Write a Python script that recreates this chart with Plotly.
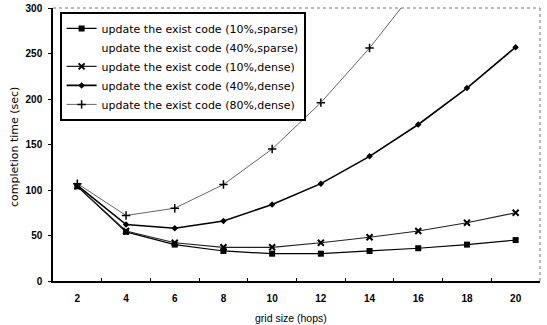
import plotly.graph_objects as go

grid_size = [2, 4, 6, 8, 10, 12, 14, 16, 18, 20]
names = [
    "update the exist code (10%,sparse)",
    "update the exist code (40%,sparse)",
    "update the exist code (10%,dense)",
    "update the exist code (40%,dense)",
    "update the exist code (80%,dense)",
]
s10_sparse = [104, 54, 40, 33, 30, 30, 33, 36, 40, 45]
s40_sparse = [105, 55, 41, 34, 31, 31, 34, 37, 41, 46]
s10_dense = [104, 55, 42, 37, 37, 42, 48, 55, 64, 75]
s40_dense = [105, 62, 58, 66, 84, 107, 137, 172, 212, 257]
s80_dense = [107, 72, 80, 106, 145, 196, 256, 324, 400, 485]

x_title = "grid size (hops)"
y_title = "completion time (sec)"

FONT = "Liberation Sans"
WIDE = "DejaVu Sans"

styles = [
    dict(line=dict(color="black", width=1.2), marker=dict(symbol="square", size=6, color="black")),
    dict(line=dict(color="rgba(0,0,0,0)", width=1), marker=dict(size=1, color="rgba(0,0,0,0)")),
    dict(line=dict(color="#222", width=1.1), marker=dict(symbol="x-thin", size=6, color="black", line=dict(width=2, color="black"))),
    dict(line=dict(color="black", width=1.6), marker=dict(symbol="diamond", size=5, color="black")),
    dict(line=dict(color="#555", width=0.9), marker=dict(symbol="cross-thin", size=6, color="black", line=dict(width=1.5, color="black"))),
]

fig = go.Figure()
for name, vals, st in zip(names, [s10_sparse, s40_sparse, s10_dense, s40_dense, s80_dense], styles):
    fig.add_trace(go.Scatter(x=grid_size, y=vals, name=name, mode="lines+markers",
                             line=st["line"], marker=st["marker"], cliponaxis=True))

fig.update_layout(
    width=547, height=325,
    margin=dict(l=53, r=7, t=8, b=44, autoexpand=False),
    paper_bgcolor="white", plot_bgcolor="white",
    font=dict(family=FONT, size=11, color="black"),
    showlegend=True,
    legend=dict(x=0.014, y=0.985, xanchor="left", yanchor="top",
                bgcolor="white", bordercolor="black", borderwidth=1.8,
                font=dict(family=WIDE, size=11, color="black"),
                tracegroupgap=0, itemwidth=30),
    xaxis=dict(range=[1, 21], tickvals=grid_size, showgrid=False, zeroline=False,
               automargin=False,
               showline=True, linecolor="black", linewidth=1.5, mirror=False,
               ticks="", ticklabelstandoff=7,
               tickfont=dict(family=FONT, size=10, color="black", weight="bold"),
               minor=dict(tickvals=[3, 5, 7, 9, 11, 13, 15, 17, 19], ticks="inside", ticklen=3, tickcolor="black")),
    yaxis=dict(range=[0, 300], dtick=50, showgrid=False, zeroline=False,
               automargin=False,
               showline=True, linecolor="black", linewidth=1.5,
               ticks="outside", ticklen=3, tickcolor="black", ticklabelstandoff=4,
               tickfont=dict(family=FONT, size=10, color="black", weight="bold")),
    annotations=[
        dict(text=x_title, xref="paper", yref="paper", x=0.489, y=-0.1355,
             xanchor="center", yanchor="middle", showarrow=False,
             font=dict(family=FONT, size=10.5, color="black")),
        dict(text=y_title, xref="paper", yref="paper", x=-0.078, y=0.491,
             xanchor="center", yanchor="middle", showarrow=False, textangle=-90,
             font=dict(family=WIDE, size=11, color="black")),
    ],
    shapes=[
        dict(type="line", xref="paper", yref="paper", x0=0, x1=1, y0=1, y1=1,
             line=dict(color="#777", width=1, dash="dot")),
        dict(type="line", xref="paper", yref="paper", x0=1, x1=1, y0=0, y1=1,
             line=dict(color="#777", width=1, dash="dot")),
    ],
)

fig.write_html("out.html", config={"displayModeBar": False},
               post_script="document.body.style.margin='0';")
